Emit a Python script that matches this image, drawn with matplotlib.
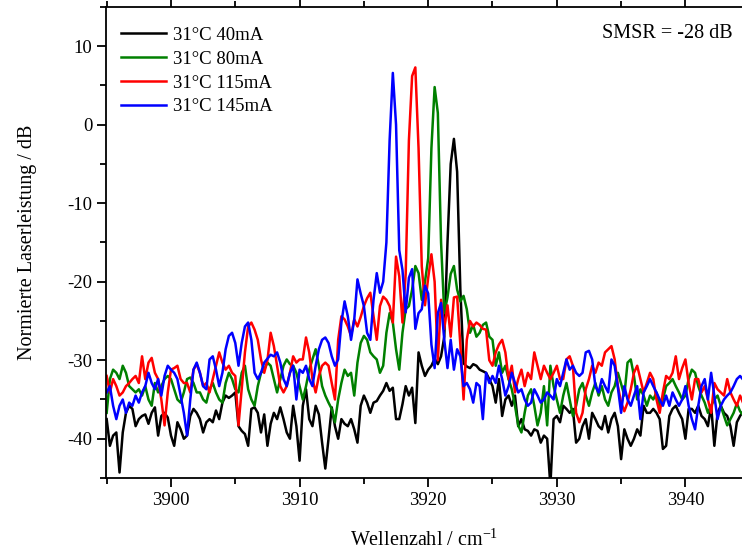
import numpy as np
import matplotlib
matplotlib.use("Agg")
import matplotlib.pyplot as plt
from matplotlib.ticker import MultipleLocator

plt.rcParams['font.family'] = ['Liberation Serif', 'DejaVu Serif']
plt.rcParams['mathtext.default'] = 'regular'
plt.rcParams['axes.unicode_minus'] = False

# wavenumber grid, 0.25 cm^-1 steps
wavenumber = np.linspace(3895.0, 3944.5, 199)

labels = ['31°C 40mA', '31°C 80mA', '31°C 115mA', '31°C 145mA']
colors = ['black', '#008000', '#ff0000', '#0000ff']

p_40mA = [
    -37.5, -40.9, -39.6, -39.2, -44.3, -39.2, -36.7, -35.8, -36.2, -38.4,
    -37.5, -37.1, -36.9, -38.1, -36.7, -36.0, -39.6, -37.1, -36.7, -37.3,
    -39.6, -40.9, -37.9, -38.8, -40.0, -39.6, -37.1, -36.2, -36.7, -37.5,
    -39.2, -37.9, -37.5, -37.9, -36.4, -37.5, -35.4, -34.5, -34.8, -34.5,
    -34.1, -38.4, -39.0, -39.4, -40.9, -36.2, -36.0, -36.7, -39.2, -36.9,
    -40.9, -38.1, -36.7, -37.5, -36.0, -37.5, -39.2, -40.0, -35.8, -38.4,
    -42.8, -35.8, -33.7, -37.5, -38.4, -35.8, -36.9, -40.5, -43.8, -40.0,
    -36.0, -38.4, -40.0, -37.5, -38.1, -38.4, -37.5, -38.8, -40.5, -35.8,
    -34.5, -35.4, -36.7, -35.4, -35.2, -34.5, -33.9, -32.9, -33.9, -33.5,
    -37.5, -37.5, -35.6, -33.3, -34.5, -33.5, -38.0, -29.0, -30.7, -32.0,
    -31.2, -30.7, -29.8, -30.5, -29.5, -27.0, -15.0, -5.0, -1.8, -6.0,
    -21.0, -30.4, -30.8, -31.0, -30.5, -30.7, -31.2, -31.4, -31.6, -32.4,
    -33.3, -35.4, -32.4, -37.1, -35.0, -34.5, -35.8, -34.5, -38.4, -37.5,
    -38.8, -39.0, -39.6, -38.8, -39.0, -40.5, -39.6, -40.0, -46.0, -37.5,
    -37.1, -37.9, -35.8, -36.2, -36.7, -36.2, -40.5, -40.0, -38.4, -37.5,
    -40.0, -36.7, -37.5, -38.4, -38.8, -37.1, -39.2, -37.5, -36.7, -38.4,
    -42.6, -38.8, -40.0, -40.9, -40.0, -38.8, -39.6, -35.8, -36.7, -36.7,
    -36.2, -36.7, -37.5, -41.3, -40.9, -37.1, -36.2, -35.8, -36.7, -37.5,
    -40.0, -36.2, -36.2, -36.7, -35.8, -37.1, -37.5, -38.4, -35.8, -40.9,
    -36.7, -35.8, -36.7, -37.1, -38.4, -40.9, -37.9, -37.1, -36.5,
]

p_80mA = [
    -36.7, -32.4, -31.2, -31.6, -32.4, -30.7, -31.6, -33.3, -33.7, -34.1,
    -33.7, -34.5, -33.3, -35.0, -35.8, -32.9, -34.1, -33.3, -32.4, -32.0,
    -32.4, -33.7, -35.0, -35.4, -34.1, -32.4, -32.2, -32.9, -34.1, -34.1,
    -35.0, -35.4, -33.7, -32.9, -34.1, -35.0, -35.4, -32.9, -31.6, -32.4,
    -33.7, -34.1, -31.6, -30.7, -33.7, -35.0, -35.8, -33.3, -31.6, -31.2,
    -30.3, -30.7, -32.4, -34.1, -32.4, -30.7, -29.9, -30.5, -30.7, -31.6,
    -33.3, -35.0, -33.3, -31.2, -29.9, -28.6, -30.7, -33.3, -34.5, -35.4,
    -36.2, -37.9, -35.0, -32.9, -31.2, -32.0, -31.6, -34.5, -30.3, -27.8,
    -26.9, -27.4, -29.0, -29.5, -29.9, -31.6, -30.7, -26.5, -24.0, -25.2,
    -28.6, -31.2, -26.5, -23.5, -23.1, -21.0, -18.0, -18.9, -22.3, -20.0,
    -17.0, -3.0, 4.8, 1.5, -15.0, -24.0, -22.0, -19.0, -18.0, -21.0,
    -22.5, -21.8, -23.5, -26.5, -25.5, -27.0, -26.5, -25.5, -25.2, -27.0,
    -27.4, -30.7, -29.0, -31.6, -30.7, -32.4, -33.7, -35.8, -38.3, -39.2,
    -36.7, -34.5, -33.7, -35.8, -38.3, -36.7, -33.3, -38.3, -30.7, -33.3,
    -35.0, -36.7, -34.5, -32.9, -35.0, -37.1, -35.8, -33.7, -32.9, -34.5,
    -35.8, -34.1, -32.9, -34.5, -33.3, -35.0, -35.8, -34.1, -33.3, -31.6,
    -33.0, -34.5, -30.3, -29.9, -32.0, -35.0, -33.7, -34.5, -35.8, -34.5,
    -35.0, -34.1, -35.8, -35.0, -33.3, -32.9, -32.4, -33.3, -34.1, -35.0,
    -34.5, -32.4, -31.2, -31.6, -33.3, -34.5, -35.4, -36.7, -35.8, -35.0,
    -34.5, -35.8, -37.1, -38.3, -37.5, -36.7, -35.5, -36.5, -37.0,
]

p_115mA = [
    -32.0, -34.1, -32.4, -33.3, -34.5, -34.1, -33.3, -32.9, -32.4, -32.0,
    -32.9, -29.5, -32.4, -30.3, -29.7, -31.6, -32.4, -35.0, -38.3, -34.1,
    -31.2, -31.0, -30.7, -32.4, -32.9, -32.9, -34.1, -31.2, -30.5, -31.6,
    -33.3, -32.9, -34.1, -32.4, -30.7, -29.0, -30.3, -31.2, -30.7, -31.6,
    -32.0, -38.3, -33.7, -29.0, -25.7, -25.2, -26.1, -27.4, -29.9, -31.6,
    -30.0, -26.5, -28.2, -30.7, -33.3, -34.1, -33.3, -31.6, -29.5, -30.3,
    -29.9, -29.9, -27.1, -29.0, -32.4, -34.1, -32.0, -30.7, -30.3, -30.7,
    -32.9, -35.0, -27.4, -24.4, -24.8, -25.7, -26.9, -24.8, -25.7, -24.5,
    -23.1, -22.1, -21.4, -24.4, -27.4, -23.1, -21.9, -22.3, -23.1, -25.2,
    -16.8, -19.3, -25.2, -19.0, -2.0, 6.2, 7.3, -3.0, -18.0, -23.0,
    -19.5, -16.5, -20.0, -30.0, -22.3, -26.0, -23.0, -27.0, -22.0, -21.9,
    -28.0, -35.0, -27.4, -25.0, -25.7, -25.2, -25.5, -26.0, -26.1, -30.0,
    -30.7, -29.0, -28.0, -27.4, -29.0, -32.4, -30.7, -34.1, -32.4, -31.2,
    -33.3, -31.6, -32.4, -29.0, -30.7, -32.4, -30.7, -31.6, -32.4, -31.6,
    -30.7, -32.4, -32.4, -29.9, -29.5, -30.7, -36.7, -37.9, -36.7, -33.7,
    -32.4, -30.7, -31.6, -30.3, -30.7, -29.0, -28.6, -28.2, -29.9, -33.3,
    -35.4, -36.5, -35.4, -33.7, -31.6, -30.7, -32.4, -34.1, -32.9, -31.6,
    -32.4, -35.0, -36.7, -34.1, -32.0, -32.4, -31.6, -29.5, -32.4, -31.0,
    -29.9, -32.9, -35.0, -32.4, -32.4, -34.1, -33.3, -35.0, -36.7, -32.9,
    -33.7, -34.1, -34.5, -32.4, -34.1, -35.0, -35.8, -34.5, -35.5,
]

p_145mA = [
    -34.1, -33.3, -35.8, -37.5, -35.8, -35.0, -36.7, -35.4, -35.8, -34.5,
    -35.4, -34.1, -33.3, -31.6, -32.9, -33.7, -32.4, -34.5, -32.0, -30.7,
    -31.2, -31.6, -32.4, -34.5, -36.7, -39.6, -35.0, -31.2, -30.3, -31.6,
    -33.3, -33.7, -29.9, -29.5, -31.2, -33.3, -31.6, -28.6, -26.9, -26.5,
    -27.8, -30.7, -27.8, -25.7, -25.2, -27.4, -31.6, -32.4, -31.6, -30.3,
    -29.8, -29.3, -29.5, -29.0, -30.3, -32.4, -33.3, -31.6, -30.7, -35.0,
    -31.2, -31.6, -30.7, -32.4, -33.3, -30.7, -28.6, -27.4, -27.1, -27.8,
    -29.5, -30.7, -29.9, -25.2, -22.5, -24.4, -27.4, -24.8, -19.7, -21.5,
    -23.1, -26.5, -27.4, -22.3, -18.9, -21.4, -20.0, -15.0, -2.0, 6.6,
    0.0, -16.0, -18.5, -23.9, -19.5, -18.4, -26.0, -24.0, -23.5, -20.5,
    -21.5, -28.0, -31.0, -24.0, -22.7, -27.4, -31.0, -27.4, -31.2, -28.6,
    -29.5, -33.3, -32.9, -33.7, -35.4, -32.9, -33.3, -37.5, -31.6, -32.9,
    -32.0, -32.9, -30.7, -32.4, -34.5, -33.3, -31.6, -32.9, -34.1, -33.7,
    -35.0, -35.8, -35.4, -33.7, -34.5, -35.4, -35.0, -34.1, -34.5, -35.0,
    -32.4, -33.3, -31.6, -29.9, -31.2, -30.7, -31.6, -32.0, -31.6, -29.0,
    -28.8, -29.9, -33.3, -34.1, -32.4, -33.3, -34.1, -29.9, -30.7, -33.5,
    -36.7, -33.3, -35.0, -35.8, -34.5, -33.3, -37.5, -34.1, -33.3, -32.4,
    -33.3, -34.1, -35.0, -35.8, -34.5, -35.8, -34.1, -35.0, -35.8, -35.0,
    -33.3, -35.8, -37.5, -38.8, -35.8, -33.3, -32.4, -35.0, -31.6, -34.5,
    -37.5, -35.8, -35.0, -34.5, -34.1, -33.3, -32.4, -32.0, -32.5,
]

smsr_text = 'SMSR = -28 dB'

fig = plt.figure(figsize=(7.42, 5.54), dpi=100)
ax = fig.add_axes([0.1429, 0.1372, 0.8571, 0.8502])

for y, lab, c in zip([p_40mA, p_80mA, p_115mA, p_145mA], labels, colors):
    ax.plot(wavenumber, y, color=c, lw=1.8, label=lab)

ax.set_xlim(3894.95, 3944.4)
ax.set_ylim(-45, 15)
ax.xaxis.set_major_locator(MultipleLocator(10))
ax.xaxis.set_minor_locator(MultipleLocator(5))
ax.yaxis.set_major_locator(MultipleLocator(10))
ax.yaxis.set_minor_locator(MultipleLocator(5))
ax.spines['right'].set_visible(False)
for s in ['left', 'bottom', 'top']:
    ax.spines[s].set_linewidth(1.3)
ax.tick_params(which='both', direction='out', top=True, right=False, width=1.3, labelsize=13.5)
ax.tick_params(which='major', length=6.5)
ax.tick_params(which='minor', length=4)

ax.set_xlabel('Wellenzahl / cm$^{-1}$', fontsize=14.5, labelpad=15)
ax.set_ylabel('Normierte Laserleistung / dB', fontsize=14.5, labelpad=22)

ax.text(0.986, 0.944, smsr_text, transform=ax.transAxes, ha='right', va='center', fontsize=14.5)

ax.legend(loc='upper left', bbox_to_anchor=(-0.003, 0.994), frameon=False, fontsize=13.5,
          handlelength=2.4, handletextpad=0.4, labelspacing=0.36, borderaxespad=0.5)

fig.savefig('out.png', dpi=100)
